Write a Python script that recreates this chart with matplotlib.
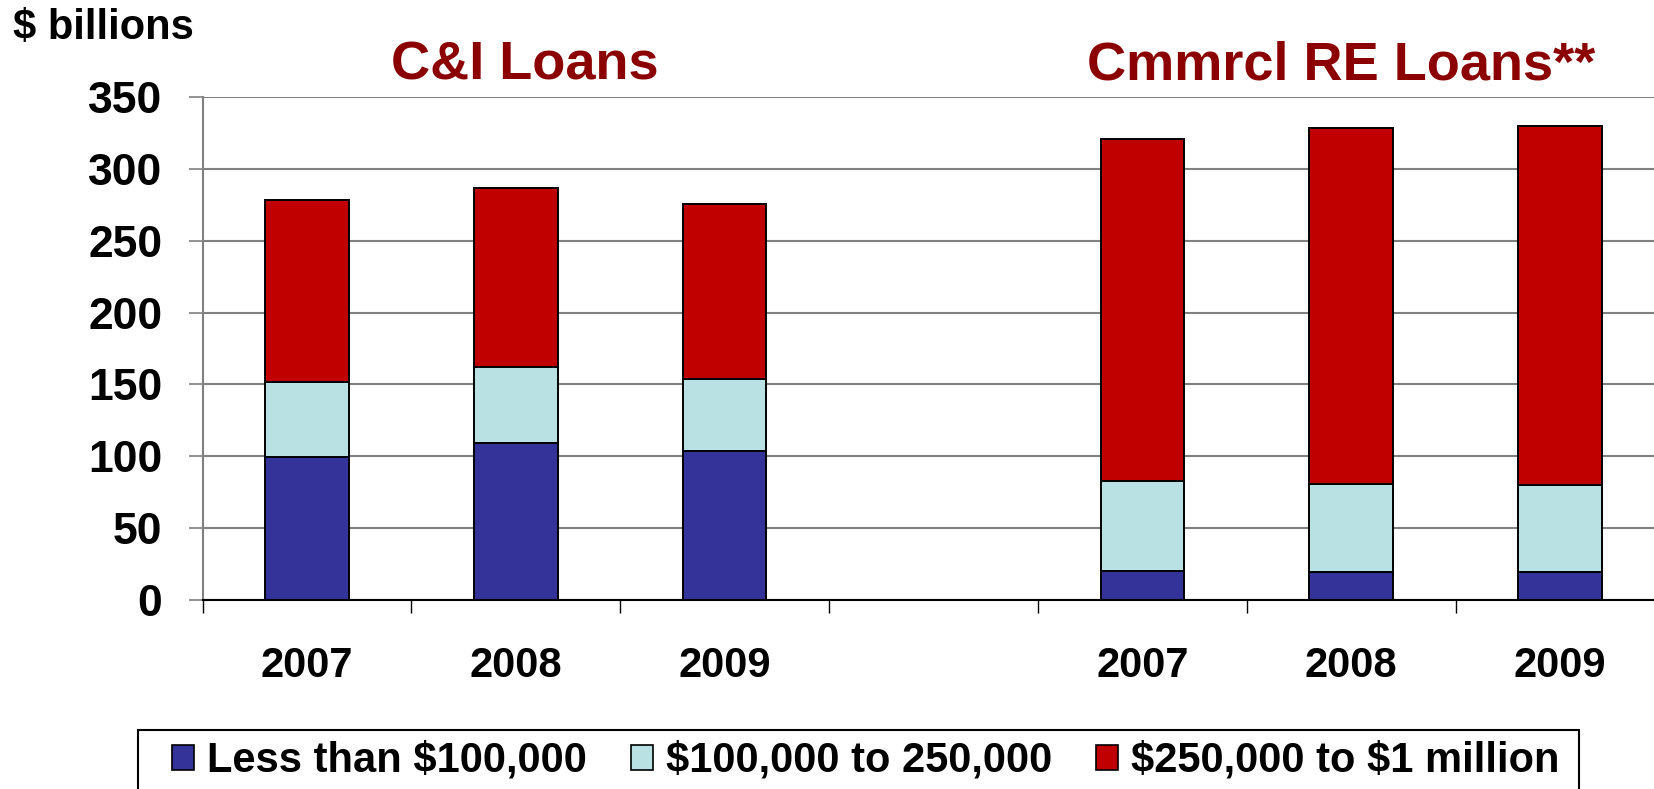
import numpy as np
import matplotlib.pyplot as plt
from matplotlib.patches import Patch, Rectangle

plt.rcParams['font.family'] = ['Liberation Sans', 'DejaVu Sans']
plt.rcParams['font.weight'] = 'bold'
plt.rcParams['text.parse_math'] = False

# data ($ billions)
years = ['2007', '2008', '2009', '', '2007', '2008', '2009']
small = [99.5, 109.5, 103.5, 20.5, 19.5, 19.5]      # less than $100,000
mid = [52, 52.5, 50.5, 62.5, 61.5, 60.5]            # $100,000 to 250,000
large = [127, 124.5, 121.5, 237.5, 247.5, 249.5]    # $250,000 to $1 million
names = ['Less than $100,000', '$100,000 to 250,000', '$250,000 to $1 million']
colors = ['#333399', '#B9E0E3', '#C00000']
yticks = [0, 50, 100, 150, 200, 250, 300, 350]

fig = plt.figure(figsize=(16.54, 7.89), dpi=100)
ax = fig.add_axes([202.5/1654, 1-600/789, 1462/1654, 503/789])

x = np.array([i for i, y in enumerate(years) if y != ''])
small = np.array(small)
mid = np.array(mid)
large = np.array(large)
w = 0.4
ax.bar(x, small, w, color=colors[0], edgecolor='black', linewidth=1.4, zorder=3)
ax.bar(x, mid, w, bottom=small, color=colors[1], edgecolor='black', linewidth=1.4, zorder=3)
ax.bar(x, large, w, bottom=small+mid, color=colors[2], edgecolor='black', linewidth=1.4, zorder=3)

ax.set_xlim(-0.5, len(years)-0.5)
ax.set_ylim(0, 350)
ax.set_yticks(yticks)
ax.set_xticks(range(len(years)))
ax.set_xticklabels(years)
ax.set_xticks(np.arange(-0.5, len(years), 1), minor=True)
ax.tick_params(axis='x', which='major', length=0, pad=33, labelsize=30)
ax.tick_params(axis='x', which='minor', length=9, width=1, color='black')
ax.tick_params(axis='y', length=10, width=1.2, color='#808080', pad=19, labelsize=32)
ax.yaxis.grid(True, color='#808080', linewidth=1.5, zorder=0)
ax.set_axisbelow(True)
for s in ['top', 'right']:
    ax.spines[s].set_visible(False)
ax.spines['left'].set_color('#808080')
ax.spines['left'].set_linewidth(1.5)
ax.spines['bottom'].set_color('black')
ax.spines['bottom'].set_linewidth(1.5)
ax.spines['bottom'].set_zorder(4)

fig.text(13/1654, 1-28.5/789, '$ billions', fontsize=30, ha='left', va='center')
fig.text(525/1654, 1-65/789, 'C&I Loans', fontsize=39, color='#8B0000', ha='center', va='center')
fig.text(1341/1654, 1-65/789, 'Cmmrcl RE Loans**', fontsize=39, color='#8B0000', ha='center', va='center')

# legend box
fig.patches.append(Rectangle((138/1654, -0.05), 1441/1654, 0.05+1-730/789,
                             transform=fig.transFigure, fill=False,
                             edgecolor='black', linewidth=1.5))
handles = [Patch(facecolor=c, edgecolor='black', linewidth=1.2) for c in colors]
fig.legend(handles, names, loc='center left', bbox_to_anchor=(172/1654, 1-761/789),
           ncol=3, frameon=False, fontsize=30, borderpad=0, borderaxespad=0,
           handlelength=0.53, handleheight=0.55, handletextpad=0.31, columnspacing=1.05)

fig.savefig('out.png', dpi=100)
